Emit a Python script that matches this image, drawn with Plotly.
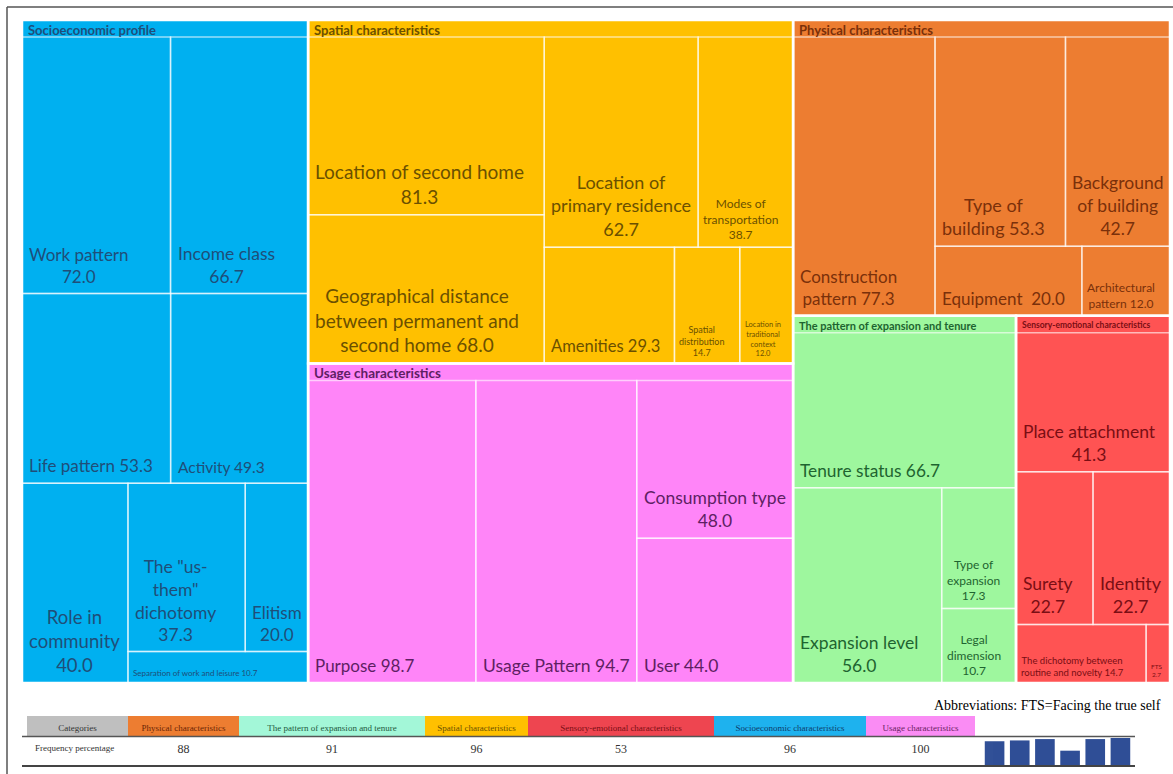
import plotly.graph_objects as go

FIG_W, FIG_H = 1173, 774

# ---------------- data ----------------
categories = ["Socioeconomic profile", "Spatial characteristics", "Usage characteristics",
              "Physical characteristics", "The pattern of expansion and tenure",
              "Sensory-emotional characteristics"]

socio_labels = ["Work pattern", "Income class", "Life pattern", "Activity", "Role in community",
                'The "us-them" dichotomy', "Elitism", "Separation of work and leisure"]
socio_values = [72.0, 66.7, 53.3, 49.3, 40.0, 37.3, 20.0, 10.7]

spatial_labels = ["Location of second home",
                  "Geographical distance between permanent and second home",
                  "Location of primary residence", "Modes of transportation", "Amenities",
                  "Spatial distribution", "Location in traditional context"]
spatial_values = [81.3, 68.0, 62.7, 38.7, 29.3, 14.7, 12.0]

usage_labels = ["Purpose", "Usage Pattern", "Consumption type", "User"]
usage_values = [98.7, 94.7, 48.0, 44.0]

physical_labels = ["Construction pattern", "Type of building", "Background of building",
                   "Equipment", "Architectural pattern"]
physical_values = [77.3, 53.3, 42.7, 20.0, 12.0]

expansion_labels = ["Tenure status", "Expansion level", "Type of expansion", "Legal dimension"]
expansion_values = [66.7, 56.0, 17.3, 10.7]

sensory_labels = ["Place attachment", "Surety", "Identity",
                  "The dichotomy between routine and novelty", "FTS"]
sensory_values = [41.3, 22.7, 22.7, 14.7, 2.7]

table_categories = ["Physical characteristics", "The pattern of expansion and tenure",
                    "Spatial characteristics", "Sensory-emotional characteristics",
                    "Socioeconomic characteristics", "Usage characteristics"]
frequency_percentage = [88, 91, 96, 53, 96, 100]

# ---------------- styles ----------------
group_children = [
    (socio_labels, socio_values), (spatial_labels, spatial_values), (usage_labels, usage_values),
    (physical_labels, physical_values), (expansion_labels, expansion_values),
    (sensory_labels, sensory_values)]
# number of items in each successive strip of the squarified layout
top_plan = [1, 2, 1, 1, 1]
group_plans = [[2, 2, 1, 2, 1], [2, 2, 1, 1, 1], [1, 1, 1, 1], [1, 2, 1, 1], [1, 1, 1, 1], [1, 2, 1, 1]]

fill_colors = ["#00B0F0", "#FFC000", "#FF85F8", "#ED7D31", "#9EF79E", "#FF5353"]
text_colors = ["#1F4E79", "#6B5000", "#5E1F63", "#7A300A", "#1E6430", "#7A0E14"]
header_sizes = [13, 13, 13.5, 13, 11, 8.5]

# display templates (line breaks) and font sizes
display = {
    "Work pattern": ("Work pattern<br>{v}", 17),
    "Income class": ("Income class<br>{v}", 17.5),
    "Life pattern": ("Life pattern {v}", 17),
    "Activity": ("Activity {v}", 15.5),
    "Role in community": ("Role in<br>community<br>{v}", 18.5),
    'The "us-them" dichotomy': ('The "us-<br>them"<br>dichotomy<br>{v}', 17.5),
    "Elitism": ("Elitism<br>{v}", 17),
    "Separation of work and leisure": ("Separation of work and leisure {v}", 8),
    "Location of second home": ("Location of second home<br>{v}", 19),
    "Geographical distance between permanent and second home":
        ("Geographical distance<br>between permanent and<br>second home {v}", 19),
    "Location of primary residence": ("Location of<br>primary residence<br>{v}", 18),
    "Modes of transportation": ("Modes of<br>transportation<br>{v}", 12),
    "Amenities": ("Amenities {v}", 16.5),
    "Spatial distribution": ("Spatial<br>distribution<br>{v}", 9),
    "Location in traditional context": ("Location in<br>traditional<br>context<br>{v}", 7.5),
    "Purpose": ("Purpose {v}", 17),
    "Usage Pattern": ("Usage Pattern {v}", 17.5),
    "Consumption type": ("Consumption type<br>{v}", 17.5),
    "User": ("User {v}", 17.5),
    "Construction pattern": ("Construction<br>pattern {v}", 17),
    "Type of building": ("Type of<br>building {v}", 18),
    "Background of building": ("Background<br>of building<br>{v}", 17.5),
    "Equipment": ("Equipment  {v}", 17),
    "Architectural pattern": ("Architectural<br>pattern {v}", 12),
    "Tenure status": ("Tenure status {v}", 17.3),
    "Expansion level": ("Expansion level<br>{v}", 17.5),
    "Type of expansion": ("Type of<br>expansion<br>{v}", 12),
    "Legal dimension": ("Legal<br>dimension<br>{v}", 12),
    "Place attachment": ("Place attachment<br>{v}", 17.5),
    "Surety": ("Surety<br>{v}", 17.5),
    "Identity": ("Identity<br>{v}", 18),
    "The dichotomy between routine and novelty":
        ("The dichotomy between<br>routine and novelty {v}", 9.5),
    "FTS": ("FTS<br>{v}", 6.5),
}

FONT = "Lato, 'Open Sans', sans-serif"
SERIF = "'Liberation Serif', 'DejaVu Serif', serif"

# treemap area in pixels
TM_X0, TM_X1, TM_Y0, TM_Y1 = 22, 1170, 20, 683
TM_W, TM_H = TM_X1 - TM_X0, TM_Y1 - TM_Y0
HEADER = 17


def strip_layout(values, x0, y0, x1, y1, plan):
    rects = []
    i = 0
    remaining = sum(values)
    for k in plan:
        row = values[i:i + k]
        rs = sum(row)
        w, h = x1 - x0, y1 - y0
        if w >= h:
            sw = w * rs / remaining
            yy = y0
            for v in row:
                hh = h * v / rs
                rects.append((x0, yy, x0 + sw, yy + hh))
                yy += hh
            x0 += sw
        else:
            sh = h * rs / remaining
            xx = x0
            for v in row:
                ww = w * v / rs
                rects.append((xx, y0, xx + ww, y0 + sh))
                xx += ww
            y0 += sh
        remaining -= rs
        i += k
    return rects


group_totals = [sum(v) for _, v in group_children]
cat_rects = strip_layout(group_totals, 0, 0, TM_W, TM_H, top_plan)

fig = go.Figure()
annotations = []

fill_shapes, child_shapes, border_shapes = [], [], []
for gi, (cname, crect) in enumerate(zip(categories, cat_rects)):
    cx0, cy0, cx1, cy1 = crect
    fill_shapes.append(dict(type="rect", xref="x", yref="y", x0=cx0, y0=cy0, x1=cx1, y1=cy1,
                            fillcolor=fill_colors[gi], line=dict(width=0), layer="below"))
    border_shapes.append(dict(type="rect", xref="x", yref="y", x0=cx0, y0=cy0, x1=cx1, y1=cy1,
                              fillcolor="rgba(0,0,0,0)", line=dict(color="white", width=2.5)))
    annotations.append(dict(x=cx0 + 4, y=cy0 + HEADER / 2 + 1, xref="x", yref="y",
                            text="<b>" + cname + "</b>", showarrow=False, xanchor="left",
                            yanchor="middle",
                            font=dict(family=FONT, size=header_sizes[gi], color=text_colors[gi])))
    labels, values = group_children[gi]
    rects = strip_layout(values, cx0, cy0 + HEADER, cx1, cy1, group_plans[gi])
    for lab, val, r in zip(labels, values, rects):
        x0, y0, x1, y1 = r
        child_shapes.append(dict(type="rect", xref="x", yref="y", x0=x0, y0=y0, x1=x1, y1=y1,
                                 fillcolor="rgba(0,0,0,0)",
                                 line=dict(color="rgba(255,255,255,0.6)", width=1.5)))
        tmpl, fs = display[lab]
        pad = 5 if fs >= 14 else 3
        annotations.append(dict(x=x0 + pad, y=y1 - pad, xref="x", yref="y",
                                text=tmpl.format(v=f"{val:.1f}"), showarrow=False,
                                xanchor="left", yanchor="bottom", align="center",
                                font=dict(family=FONT, size=fs, color=text_colors[gi])))

shapes = fill_shapes + child_shapes + border_shapes

# invisible trace to hold the treemap axes
fig.add_trace(go.Scatter(x=[0, TM_W], y=[0, TM_H], mode="markers",
                         marker=dict(opacity=0), hoverinfo="skip", showlegend=False,
                         xaxis="x", yaxis="y"))

# ---------------- table ----------------
tbl_x0, tbl_x1 = 27, 975
col_w = [101, 111, 186, 103, 186, 152, 109]
head_fill = ["#BFBFBF", "#ED7D31", "#A3F7D8", "#FFC000", "#EE4550", "#1EB2EE", "#FA8CF4"]
head_font_col = ["#333333", "#6B2505", "#1E5A40", "#6B5000", "#7A0E14", "#0E3D6B", "#6B1F63"]
fig.add_trace(go.Table(
    domain=dict(x=[tbl_x0 / FIG_W, tbl_x1 / FIG_W], y=[1 - 772 / FIG_H, 1 - 716 / FIG_H]),
    columnwidth=col_w,
    header=dict(values=["Categories"] + table_categories,
                fill=dict(color=head_fill), line=dict(color="white", width=0),
                align="center", height=20,
                font=dict(family=SERIF, size=9, color=head_font_col)),
    cells=dict(values=[["Frequency percentage"]] + [[v] for v in frequency_percentage],
               fill=dict(color="white"), line=dict(color="white", width=0),
               align=["left"] + ["center"] * 6, height=28,
               font=dict(family=SERIF, size=[9] + [12] * 6, color="#333333")),
))

# sparkline bars
fig.add_trace(go.Bar(x=list(range(len(frequency_percentage))), y=frequency_percentage,
                     marker=dict(color="#2F4E96", line=dict(width=0)),
                     xaxis="x2", yaxis="y2", showlegend=False, hoverinfo="skip"))

# table rules
shapes.append(dict(type="line", xref="paper", yref="paper", x0=22 / FIG_W, x1=1135 / FIG_W,
                   y0=1 - 736.5 / FIG_H, y1=1 - 736.5 / FIG_H, line=dict(color="#555555", width=1.5)))
shapes.append(dict(type="line", xref="paper", yref="paper", x0=22 / FIG_W, x1=1135 / FIG_W,
                   y0=1 - 766 / FIG_H, y1=1 - 766 / FIG_H, line=dict(color="#444444", width=2)))
# outer frame (top and left)
shapes.append(dict(type="line", xref="paper", yref="paper", x0=7 / FIG_W, x1=1,
                   y0=1 - 7 / FIG_H, y1=1 - 7 / FIG_H, line=dict(color="#555555", width=1.5)))
shapes.append(dict(type="line", xref="paper", yref="paper", x0=7 / FIG_W, x1=7 / FIG_W,
                   y0=0, y1=1 - 7 / FIG_H, line=dict(color="#555555", width=1.5)))

annotations.append(dict(x=1163 / FIG_W, y=1 - 705 / FIG_H, xref="paper", yref="paper",
                        text="Abbreviations: FTS=Facing the true self", showarrow=False,
                        xanchor="right", yanchor="middle",
                        font=dict(family=SERIF, size=14, color="black")))

fig.update_layout(
    width=FIG_W, height=FIG_H, margin=dict(l=0, r=0, t=0, b=0),
    paper_bgcolor="white", plot_bgcolor="rgba(0,0,0,0)",
    showlegend=False, bargap=0.22,
    xaxis=dict(domain=[TM_X0 / FIG_W, TM_X1 / FIG_W], range=[0, TM_W], visible=False,
               fixedrange=True),
    yaxis=dict(domain=[1 - TM_Y1 / FIG_H, 1 - TM_Y0 / FIG_H], range=[TM_H, 0], visible=False,
               fixedrange=True),
    xaxis2=dict(domain=[982 / FIG_W, 1133 / FIG_W], range=[-0.5, 5.5], visible=False,
                anchor="y2", fixedrange=True),
    yaxis2=dict(domain=[1 - 765 / FIG_H, 1 - 738 / FIG_H], range=[0, 100], visible=False,
                anchor="x2", fixedrange=True),
    shapes=shapes, annotations=annotations,
)

fig.write_html("out.html", config={"displayModeBar": False},
               post_script="document.body.style.margin='0';"
                           "document.body.style.overflow='hidden';")
